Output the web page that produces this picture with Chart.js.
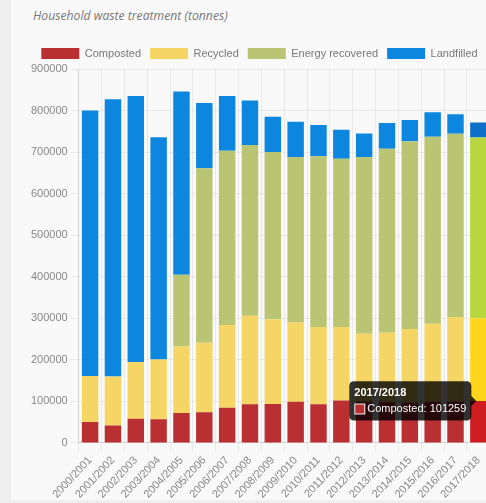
<!DOCTYPE html>
<html>
<head>
<meta charset="utf-8">
<script src="https://cdn.jsdelivr.net/npm/chart.js@4.4.0/dist/chart.umd.min.js"></script>
<style>
  html, body { margin: 0; padding: 0; background: #efefef; overflow: hidden; width: 486px; height: 503px; }
  #panel { position: absolute; left: 11px; top: 0; width: 480px; height: 500px; background: #f9f9f9; }
  #title { position: absolute; left: 33px; top: 7px; font: italic 12.2px "Open Sans", sans-serif; color: #777; }
  #chart { position: absolute; left: 11px; top: 39px; }
</style>
</head>
<body>
<div id="panel"></div>
<div id="title">Household waste treatment (tonnes)</div>
<canvas id="chart" width="480" height="465"></canvas>
<script>
// Anni (asse X)
const years = ['2000/2001', '2001/2002', '2002/2003', '2003/2004', '2004/2005', '2005/2006',
               '2006/2007', '2007/2008', '2008/2009', '2009/2010', '2010/2011', '2011/2012',
               '2012/2013', '2013/2014', '2014/2015', '2015/2016', '2016/2017', '2017/2018'];

// Tonnellate per tipo di trattamento
const composted  = [50700, 42000, 58000, 57000, 72000, 74000, 85000, 93000, 94000,
                    99000, 93000, 102000, 100000, 98000, 97000, 99000, 100000, 101259];
const recycled   = [110300, 118000, 137000, 144000, 160000, 167000, 199000, 213000, 204000,
                    191000, 186000, 177000, 163000, 167000, 177000, 188000, 203000, 199000];
const energy     = [0, 0, 0, 0, 173000, 420000, 419000, 411000, 402000,
                    398000, 411000, 405000, 425000, 443000, 452000, 450000, 441000, 435000];
const landfilled = [639000, 667000, 640000, 535000, 441000, 157000, 132000, 107000, 85000,
                    85000, 75000, 70000, 57000, 62000, 51000, 59000, 47000, 36000];

// Colori
const RED    = 'rgb(186, 48, 50)';
const YELLOW = 'rgb(245, 214, 100)';
const GREEN  = 'rgb(186, 197, 116)';
const BLUE   = 'rgb(12, 134, 222)';

const FONT = { family: '"Liberation Sans", Arial, sans-serif', size: 11 };

const chart = new Chart(document.getElementById('chart'), {
    type: 'bar',
    data: {
        labels: years,
        datasets: [
            { label: 'Composted', data: composted, backgroundColor: RED, hoverBackgroundColor: 'rgb(206, 30, 34)' },
            { label: 'Recycled', data: recycled, backgroundColor: YELLOW, hoverBackgroundColor: 'rgb(255, 214, 30)' },
            { label: 'Energy recovered', data: energy, backgroundColor: GREEN, hoverBackgroundColor: 'rgb(184, 214, 62)' },
            { label: 'Landfilled', data: landfilled, backgroundColor: BLUE, hoverBackgroundColor: 'rgb(14, 112, 200)' }
        ]
    },
    options: {
        responsive: false,
        animation: false,
        layout: { padding: { left: 17, right: 0, top: 0, bottom: 0 } },
        plugins: {
            legend: {
                position: 'top',
                labels: { boxWidth: 38, boxHeight: 11, font: FONT, color: '#777', padding: 9 }
            },
            tooltip: {
                mode: 'nearest',
                titleFont: { family: FONT.family, size: 11, weight: 'bold' },
                bodyFont: { family: FONT.family, size: 11 },
                padding: 5,
                titleMarginBottom: 3,
                cornerRadius: 5,
                callbacks: {
                    label: ctx => ctx.dataset.label + ': ' + ctx.raw // numeri senza separatori
                }
            }
        },
        scales: {
            x: {
                stacked: true,
                ticks: { font: FONT, color: '#888', minRotation: 47, maxRotation: 47, autoSkip: false },
                grid: { color: 'rgba(0,0,0,0.06)' }
            },
            y: {
                stacked: true,
                min: 0,
                max: 900000,
                ticks: { stepSize: 100000, font: FONT, color: '#888', callback: v => v },
                grid: { color: 'rgba(0,0,0,0.06)' }
            }
        }
    }
});

// Evidenzia l'ultima colonna e mostra il tooltip come nella figura
const last = years.length - 1;
chart.setActiveElements([0, 1, 2, 3].map(i => ({ datasetIndex: i, index: last })));
chart.tooltip.setActiveElements([{ datasetIndex: 0, index: last }], { x: 0, y: 0 });
chart.update();
</script>
</body>
</html>
